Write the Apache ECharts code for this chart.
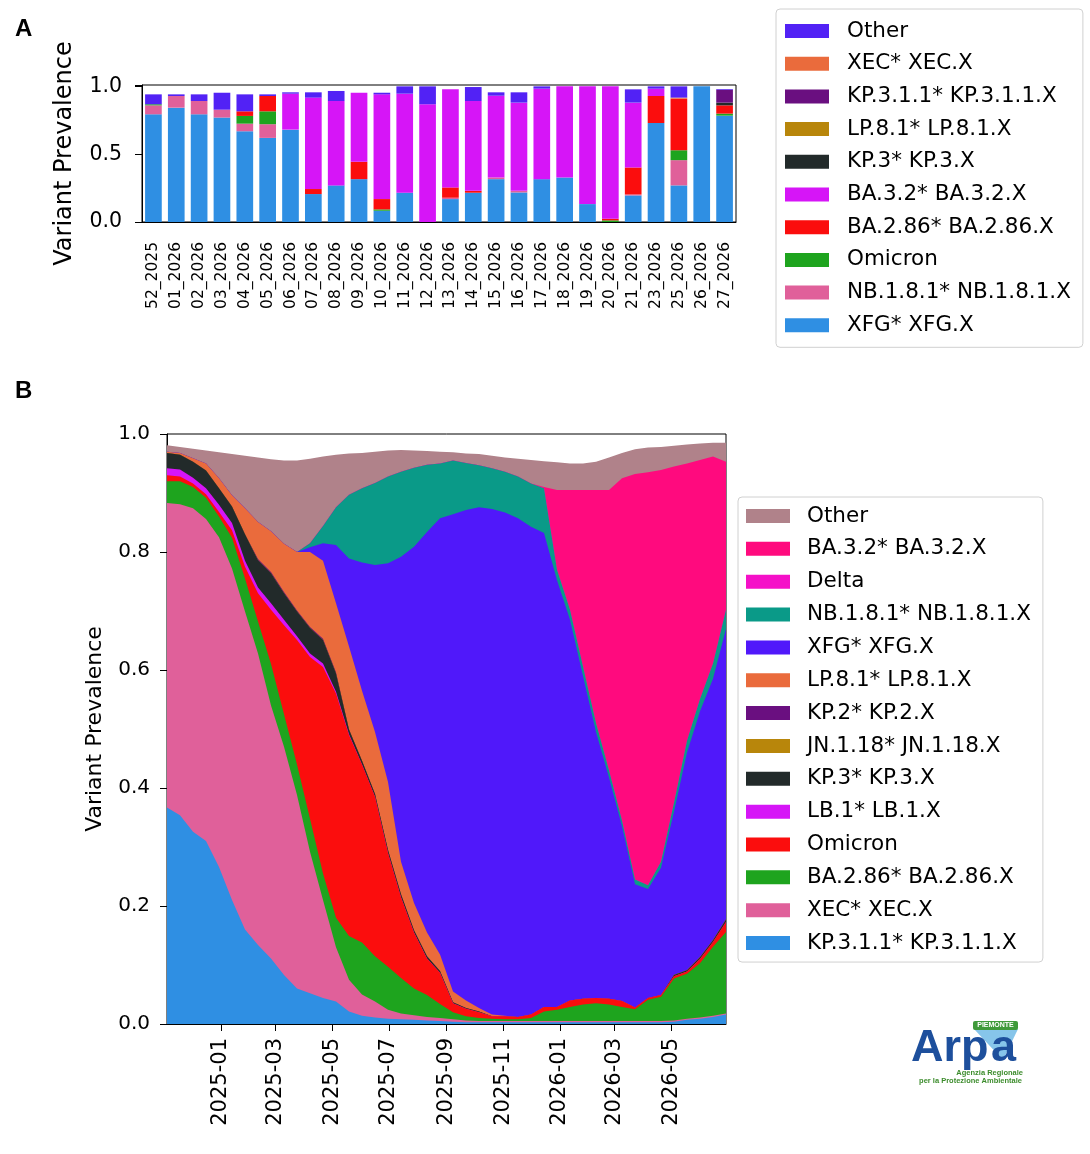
<!DOCTYPE html>
<html>
<head>
<meta charset="utf-8">
<title>Variant Prevalence</title>
<style type="text/css">
  html, body {margin: 0; padding: 0; background: #fff;}
  #wrap {position: relative; width: 1090px; height: 1154px;}
  #chartA {position: absolute; left: 0; top: 0; width: 1090px; height: 360px;}
  #chartB {position: absolute; left: 0; top: 360px; width: 1090px; height: 794px;}
</style>
<script type="text/javascript" src="https://cdn.jsdelivr.net/npm/echarts@6/dist/echarts.min.js"></script>
</head>
<body>
<div id="wrap">
  <div id="chartA"></div>
  <div id="chartB"></div>
</div>
<script type="text/javascript">
// ---- panel A: weekly share per variant ----
var weeks = ['52_2025', '01_2026', '02_2026', '03_2026', '04_2026', '05_2026', '06_2026',
  '07_2026', '08_2026', '09_2026', '10_2026', '11_2026', '12_2026', '13_2026', '14_2026',
  '15_2026', '16_2026', '17_2026', '18_2026', '19_2026', '20_2026', '21_2026', '23_2026',
  '25_2026', '26_2026', '27_2026'];

var xfgA    = [.794, .843, .794, .770, .669, .620, .681, .206, .270, .316, .083, .216, 0, .169, .216, .316, .218, .316, .328, .132, 0, .196, .730, .270, 1.0, .784];
var nbA     = [.066, .086, .098, .058, .056, .101, 0, 0, 0, 0, 0, 0, 0, .010, 0, .012, .012, 0, 0, 0, 0, .007, 0, .186, 0, 0];
var omiA    = [.008, 0, 0, 0, .057, .095, 0, 0, 0, 0, .010, 0, 0, 0, 0, 0, 0, 0, 0, 0, .012, 0, 0, .073, 0, .015];
var ba286A  = [0, 0, 0, 0, .034, .113, 0, .037, 0, .128, .076, 0, 0, .076, .014, 0, 0, 0, 0, 0, .012, .199, .199, .380, 0, .061];
var ba32A   = [0, 0, 0, 0, 0, 0, .265, .674, .622, .509, .772, .730, .868, .723, .662, .603, .650, .667, .672, .868, .976, .478, .054, 0, 0, 0];
var kp3A    = [0, 0, 0, 0, 0, 0, 0, 0, 0, 0, 0, 0, 0, 0, 0, 0, 0, 0, 0, 0, 0, 0, 0, 0, 0, .020];
var lp81A   = [0, 0, 0, 0, 0, 0, 0, 0, 0, 0, 0, 0, 0, 0, 0, 0, 0, 0, 0, 0, 0, 0, 0, 0, 0, 0];
var kp311A  = [0, 0, 0, 0, 0, 0, 0, 0, 0, 0, 0, 0, 0, 0, 0, 0, 0, 0, 0, 0, 0, 0, 0, 0, 0, .095];
var xecA    = [0, 0, 0, 0, 0, 0, 0, 0, 0, 0, 0, 0, 0, 0, 0, 0, 0, 0, 0, 0, 0, 0, 0, .008, 0, 0];
var otherA  = [.073, .012, .049, .125, .125, .012, .010, .039, .074, 0, .012, .054, .132, 0, .103, .025, .076, .017, 0, 0, 0, .098, .017, .083, 0, .005];

// ---- panel B: smoothed share over time (every two weeks) ----
var datesB = ['2024-11-04', '2024-11-18', '2024-12-02', '2024-12-16', '2024-12-30',
  '2025-01-13', '2025-01-27', '2025-02-10', '2025-02-24', '2025-03-10', '2025-03-24',
  '2025-04-07', '2025-04-21', '2025-05-05', '2025-05-19', '2025-06-02', '2025-06-16',
  '2025-06-30', '2025-07-14', '2025-07-28', '2025-08-11', '2025-08-25', '2025-09-08',
  '2025-09-22', '2025-10-06', '2025-10-20', '2025-11-03', '2025-11-17', '2025-12-01',
  '2025-12-15', '2025-12-29', '2026-01-12', '2026-01-26', '2026-02-09', '2026-02-23',
  '2026-03-09', '2026-03-23', '2026-04-06', '2026-04-20', '2026-05-04', '2026-05-18',
  '2026-06-01', '2026-06-15', '2026-06-29'];
var monthTicksB = ['2025-01', '2025-03', '2025-05', '2025-07', '2025-09', '2025-11', '2026-01', '2026-03', '2026-05'];

var kp311B = [.367, .354, .326, .310, .266, .210, .160, .134, .111, .083, .060, .052, .044, .038, .021, .014, .011, .009, .008, .007, .006, .005, .004,
  .003, .003, .003, .003, .003, .003, .003, .003, .003, .003, .003, .003, .003, .003, .003, .003, .004, .007, .009, .012, .016];
var xecB   = [.516, .527, .548, .546, .559, .562, .539, .494, .429, .387, .328, .240, .166, .092, .054, .036, .027, .015, .010, .008, .006, .005, .004,
  .003, .002, .002, .002, .002, .002, .002, .002, .002, .002, .002, .002, .002, .002, .002, .002, .002, .002, .002, .002, .002];
var ba286B = [.037, .039, .036, .036, .035, .052, .056, .054, .070, .055, .052, .056, .045, .050, .074, .088, .077, .073, .060, .045, .037, .024, .012,
  .007, .005, .004, .003, .003, .005, .016, .019, .024, .028, .030, .028, .024, .020, .036, .041, .071, .076, .092, .117, .138];
var omiB   = [.010, .008, .006, .006, .008, .013, .020, .048, .092, .151, .211, .274, .350, .380, .341, .302, .270, .193, .137, .095, .062, .053, .015,
  .013, .010, .004, .005, .004, .006, .008, .005, .011, .010, .009, .010, .010, .003, .003, .003, .004, .004, .007, .008, .017];
var lb1B   = [.012, .012, .010, .010, .012, .012, .010, .010, .011, .009, .006, .006, .006, .003, .001, 0, 0, 0, 0, 0, 0, 0, 0,
  0, 0, 0, 0, 0, 0, 0, 0, 0, 0, 0, 0, 0, 0, 0, 0, 0, 0, 0, 0, 0];
var kp3B   = [.026, .025, .027, .030, .028, .028, .045, .046, .051, .045, .042, .043, .040, .031, .008, .006, .005, .005, .005, .004, .004, .003, .002,
  .001, .001, 0, 0, 0, 0, 0, 0, 0, 0, 0, 0, 0, 0, 0, 0, .002, .002, .003, .003, .004];
var jn118B = [0, 0, 0, 0, 0, 0, 0, 0, 0, 0, 0, 0, 0, 0, 0, 0, 0, 0, 0, 0, 0, 0, 0,
  0, 0, 0, 0, 0, 0, 0, 0, 0, 0, 0, 0, 0, 0, 0, 0, 0, 0, 0, 0, 0];
var kp2B   = [0, 0, 0, 0, 0, 0, 0, .002, .002, .002, .002, .002, .002, .002, 0, 0, 0, 0, 0, 0, 0, 0, 0,
  0, 0, 0, 0, 0, 0, 0, 0, 0, 0, 0, 0, 0, 0, 0, 0, 0, 0, 0, 0, 0];
var lp81B  = [.002, .003, .006, .012, .017, .019, .044, .063, .069, .082, .099, .127, .132, .117, .141, .119, .105, .115, .055, .046, .040, .028, .018,
  .013, .006, .003, .001, 0, 0, 0, 0, 0, 0, 0, 0, 0, 0, 0, 0, 0, 0, 0, 0, 0];
var xfgB   = [0, 0, 0, 0, 0, 0, 0, 0, 0, 0, 0, .008, .030, .099, .149, .217, .283, .371, .517, .604, .679, .739, .809,
  .831, .849, .857, .853, .845, .827, .803, .723, .645, .547, .451, .375, .296, .209, .185, .216, .277, .369, .417, .443, .493];
var nbB    = [0, 0, 0, 0, 0, 0, 0, 0, 0, 0, 0, .007, .029, .064, .108, .126, .139, .147, .144, .134, .114, .093, .091,
  .080, .071, .069, .069, .071, .073, .076, .018, .017, .016, .015, .012, .010, .008, .006, .010, .015, .020, .021, .026, .032];
var deltaB = [0, 0, 0, 0, 0, 0, 0, 0, 0, 0, 0, 0, 0, 0, 0, 0, 0, 0, 0, 0, 0, 0, 0,
  0, 0, 0, 0, 0, 0, 0, 0, 0, 0, 0, 0, 0, 0, 0, 0, 0, 0, 0, 0, 0];
var ba32B  = [0, 0, 0, 0, 0, 0, 0, 0, 0, 0, 0, 0, 0, 0, 0, 0, 0, 0, 0, 0, 0, 0, 0,
  0, 0, 0, 0, 0, 0, .002, .135, .203, .299, .395, .475, .580, .687, .700, .664, .570, .470, .405, .351, .251];
var otherB = [.011, .010, .016, .022, .044, .070, .089, .109, .122, .141, .155, .143, .118, .089, .070, .060, .053, .044, .037, .029, .023, .020, .014,
  .016, .019, .021, .024, .030, .040, .044, .047, .045, .045, .048, .055, .043, .042, .042, .039, .035, .032, .028, .023, .032];

var FONT = 'DejaVu Sans';

function ts(s) {
  var p = s.split('-');
  return Date.UTC(+p[0], +p[1] - 1, p[2] ? +p[2] : 1);
}

// stacking order = bottom first; legends list them top first
var barSeries = [
  ['XFG* XFG.X', xfgA, '#2f8fe3'],
  ['NB.1.8.1* NB.1.8.1.X', nbA, '#e0609a'],
  ['Omicron', omiA, '#1ea41e'],
  ['BA.2.86* BA.2.86.X', ba286A, '#fb0d0d'],
  ['BA.3.2* BA.3.2.X', ba32A, '#d615f7'],
  ['KP.3* KP.3.X', kp3A, '#222a2a'],
  ['LP.8.1* LP.8.1.X', lp81A, '#b8860b'],
  ['KP.3.1.1* KP.3.1.1.X', kp311A, '#6a0f80'],
  ['XEC* XEC.X', xecA, '#ea6b3c'],
  ['Other', otherA, '#5222f5']
];

var areaSeries = [
  ['KP.3.1.1* KP.3.1.1.X', kp311B, '#2f8fe3'],
  ['XEC* XEC.X', xecB, '#e0609a'],
  ['BA.2.86* BA.2.86.X', ba286B, '#1ea41e'],
  ['Omicron', omiB, '#fb0d0d'],
  ['LB.1* LB.1.X', lb1B, '#d615f7'],
  ['KP.3* KP.3.X', kp3B, '#222a2a'],
  ['JN.1.18* JN.1.18.X', jn118B, '#b8860b'],
  ['KP.2* KP.2.X', kp2B, '#6a0f80'],
  ['LP.8.1* LP.8.1.X', lp81B, '#ea6b3c'],
  ['XFG* XFG.X', xfgB, '#5018fa'],
  ['NB.1.8.1* NB.1.8.1.X', nbB, '#0a9a88'],
  ['Delta', deltaB, '#f510c8'],
  ['BA.3.2* BA.3.2.X', ba32B, '#ff0a7e'],
  ['Other', otherB, '#b0828a']
];

var black = {color: '#000'};

// ---------- chart A ----------
var chartA = echarts.init(document.getElementById('chartA'));
chartA.setOption({
  animation: false,
  textStyle: {fontFamily: FONT},
  grid: {left: 142, top: 85, width: 594, height: 137, show: true, borderColor: '#000', borderWidth: 1},
  xAxis: {
    type: 'category',
    data: weeks,
    axisLine: {lineStyle: black},
    axisTick: {alignWithLabel: true, length: 7, lineStyle: black},
    axisLabel: {rotate: 90, interval: 0, fontSize: 15.5, color: '#000', margin: 20}
  },
  yAxis: {
    type: 'value', min: 0, max: 1.01, interval: 0.5,
    name: 'Variant Prevalence', nameLocation: 'middle', nameGap: 65,
    nameTextStyle: {fontSize: 24, color: '#000'},
    splitLine: {show: false},
    axisLine: {show: true, lineStyle: black},
    axisTick: {show: true, length: 7, lineStyle: black},
    axisLabel: {
      fontSize: 20.5, color: '#000', margin: 20,
      formatter: function (v) {
        return Math.abs(v * 2 - Math.round(v * 2)) < 1e-6 ? v.toFixed(1) : '';
      }
    }
  },
  legend: {
    orient: 'vertical', left: 776, top: 9,
    data: barSeries.map(function (s) { return s[0]; }).reverse(),
    icon: 'rect', itemWidth: 44, itemHeight: 14, itemGap: 10.7,
    padding: [11, 12, 11, 9],
    borderColor: '#d0d0d0', borderWidth: 1, borderRadius: 4,
    selectedMode: false,
    textStyle: {fontSize: 21.5, color: '#000', lineHeight: 22, padding: [0, 0, 0, 13]}
  },
  graphic: [{
    type: 'text', x: 15, y: 29,
    style: {text: 'A', font: 'bold 24px "Liberation Sans"', fill: '#000', verticalAlign: 'middle'}
  }],
  series: barSeries.map(function (s) {
    return {
      name: s[0], type: 'bar', stack: 'a', data: s[1], barWidth: '73%',
      itemStyle: {color: s[2]}, emphasis: {disabled: true}
    };
  })
});

// ---------- chart B ----------
var chartB = echarts.init(document.getElementById('chartB'));
var tickValsB = monthTicksB.map(ts);

// running totals: each layer is filled from 0 up to its cumulative share,
// the tallest one drawn first so the lower layers paint over it
var running = datesB.map(function () { return 0; });
var layersB = areaSeries.map(function (s) {
  running = running.map(function (r, i) { return r + s[1][i]; });
  return {name: s[0], color: s[2], top: running.slice()};
});

chartB.setOption({
  animation: false,
  textStyle: {fontFamily: FONT},
  grid: {left: 167, top: 74, width: 559, height: 590, show: true, borderColor: '#000', borderWidth: 1},
  xAxis: {
    type: 'value', min: ts(datesB[0]), max: ts(datesB[datesB.length - 1]),
    splitLine: {show: false},
    axisLine: {lineStyle: black},
    axisTick: {length: 7, lineStyle: black, customValues: tickValsB},
    axisLabel: {
      rotate: 90, fontSize: 21, color: '#000', margin: 14,
      customValues: tickValsB,
      formatter: function (v) {
        var i = tickValsB.indexOf(v);
        return i >= 0 ? monthTicksB[i] : '';
      }
    }
  },
  yAxis: {
    type: 'value', min: 0, max: 1, interval: 0.2,
    name: 'Variant Prevalence', nameLocation: 'middle', nameGap: 61,
    nameTextStyle: {fontSize: 22, color: '#000'},
    splitLine: {show: false},
    axisLine: {show: true, lineStyle: black},
    axisTick: {show: true, length: 7, lineStyle: black},
    axisLabel: {fontSize: 20, color: '#000', margin: 17, formatter: function (v) { return v.toFixed(1); }}
  },
  legend: {
    orient: 'vertical', left: 738, top: 137,
    data: areaSeries.map(function (s) { return s[0]; }).reverse(),
    icon: 'rect', itemWidth: 44, itemHeight: 14, itemGap: 10.85,
    padding: [8, 12, 8, 8],
    borderColor: '#d0d0d0', borderWidth: 1, borderRadius: 4,
    selectedMode: false,
    textStyle: {fontSize: 21.5, color: '#000', lineHeight: 22, padding: [0, 0, 0, 12]}
  },
  graphic: [
    {type: 'text', x: 15, y: 31,
     style: {text: 'B', font: 'bold 24px "Liberation Sans"', fill: '#000', verticalAlign: 'middle'}},
    // logo
    {type: 'polygon', shape: {points: [[974, 669], [1018, 669], [1003, 700]]}, style: {fill: '#86c5ea'}},
    {type: 'rect', shape: {x: 973, y: 661, width: 45, height: 9, r: 2}, style: {fill: '#3f9a3a'}},
    {type: 'text', x: 995.5, y: 665.5,
     style: {text: 'PIEMONTE', font: 'bold 7px "Liberation Sans"', fill: '#fff', align: 'center', verticalAlign: 'middle'}},
    {type: 'text', x: 911, y: 689,
     style: {text: 'Arp', font: 'bold 45px "Liberation Sans"', fill: '#1d4f9c', verticalAlign: 'middle'}},
    {type: 'text', x: 991, y: 689,
     style: {text: 'a', font: 'bold 45px "Liberation Sans"', fill: '#1d4f9c', verticalAlign: 'middle'}},
    {type: 'text', x: 1023, y: 713,
     style: {text: 'Agenzia Regionale', font: 'bold 7.5px "Liberation Sans"', fill: '#3c8c2c', align: 'right', verticalAlign: 'middle'}},
    {type: 'text', x: 1022, y: 721,
     style: {text: 'per la Protezione Ambientale', font: 'bold 7.5px "Liberation Sans"', fill: '#3c8c2c', align: 'right', verticalAlign: 'middle'}}
  ],
  series: layersB.slice().reverse().map(function (l) {
    return {
      name: l.name, type: 'line', symbol: 'none', showSymbol: false,
      data: datesB.map(function (d, i) { return [ts(d), l.top[i]]; }),
      lineStyle: {width: 0, color: l.color},
      itemStyle: {color: l.color},
      areaStyle: {color: l.color, opacity: 1},
      emphasis: {disabled: true}
    };
  })
});
</script>
</body>
</html>
